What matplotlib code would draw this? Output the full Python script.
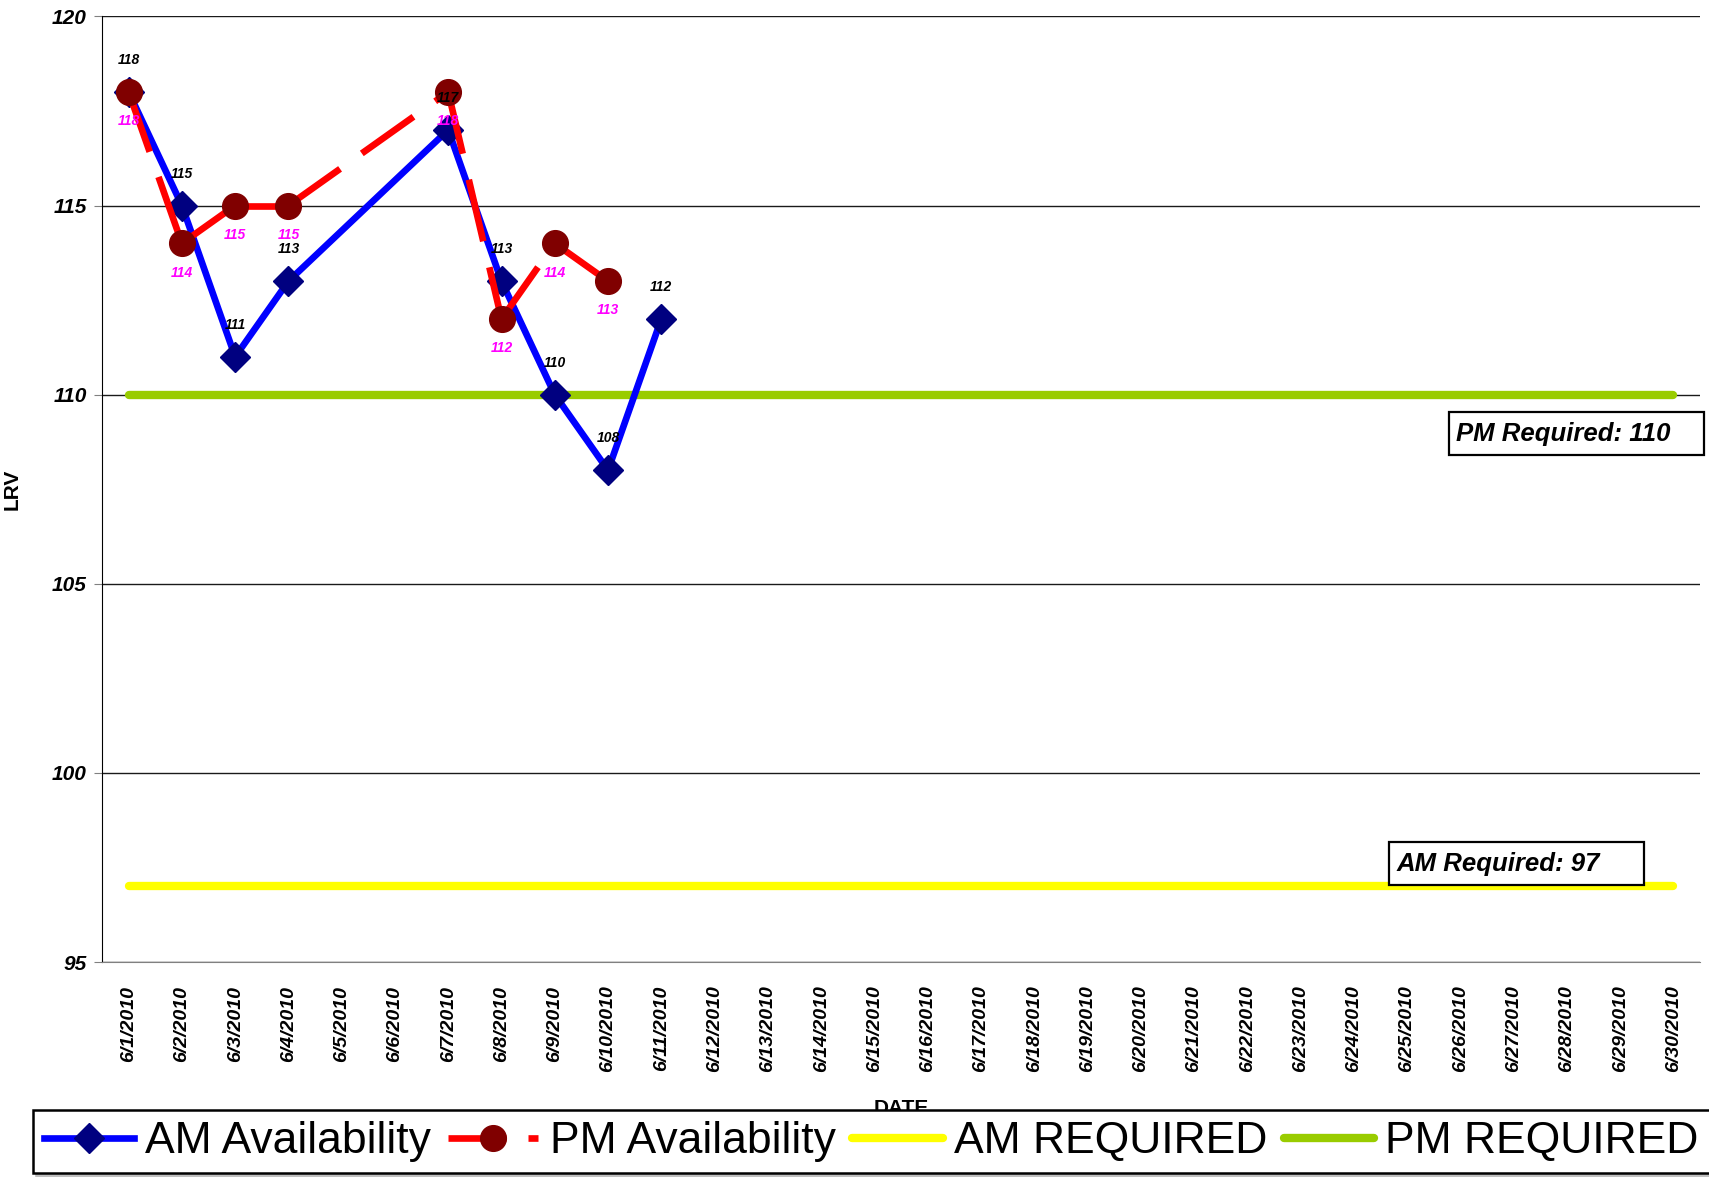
import numpy as np
import matplotlib
matplotlib.use('Agg')
import matplotlib.pyplot as plt
from matplotlib.lines import Line2D
from matplotlib.patches import Rectangle

plt.rcParams['font.family'] = ['Liberation Sans', 'DejaVu Sans']

# data
dates = ['6/%d/2010' % d for d in range(1, 31)]
am_avail = [118, 115, 111, 113, np.nan, np.nan, 117, 113, 110, 108, 112]
pm_avail = [118, 114, 115, 115, np.nan, np.nan, 118, 112, 114, 113]
am_required = [97] * len(dates)
pm_required = [110] * len(dates)
y_ticks = [95, 100, 105, 110, 115, 120]

W, H = 1709, 1177
fig = plt.figure(figsize=(W / 100, H / 100), dpi=100)
ax = fig.add_axes([102 / W, 1 - 962 / H, 1598 / W, 945.6 / H])

# required levels (drawn underneath)
ax.plot(dates, am_required, color='#FFFF00', lw=6, solid_capstyle='round', zorder=2)
ax.plot(dates, pm_required, color='#99CC00', lw=6, solid_capstyle='round', zorder=2)

# AM availability - connect across missing days
am_d = [d for d, v in zip(dates, am_avail) if not np.isnan(v)]
am_v = [v for v in am_avail if not np.isnan(v)]
ax.plot(am_d, am_v, color='#0000FF', lw=4.8, marker='D', ms=15,
        mfc='#000080', mec='#000080', zorder=3)

# PM availability - dashed, pattern restarts on every segment like Excel
pm_d = [d for d, v in zip(dates, pm_avail) if not np.isnan(v)]
pm_v = [v for v in pm_avail if not np.isnan(v)]
dash = (0, (9.5, 4))
for i in range(len(pm_d) - 1):
    ax.plot(pm_d[i:i + 2], pm_v[i:i + 2], color='#FF0000', lw=4.8,
            linestyle=dash, dash_capstyle='butt', zorder=4)
ax.plot(pm_d, pm_v, linestyle='none', marker='o', ms=18.5,
        mfc='#800000', mec='#800000', zorder=5)

# data labels
for d, v in zip(am_d, am_v):
    ax.annotate('%d' % v, (d, v), xytext=(0, 23), textcoords='offset points',
                ha='center', va='center', fontsize=10, fontweight='bold',
                fontstyle='italic', color='black', zorder=6)
for d, v in zip(pm_d, pm_v):
    ax.annotate('%d' % v, (d, v), xytext=(0, -21), textcoords='offset points',
                ha='center', va='center', fontsize=10, fontweight='bold',
                fontstyle='italic', color='#FF00FF', zorder=6)

# axes styling
ax.set_xlim(-0.5, len(dates) - 0.5)
ax.set_ylim(95, 120)
ax.set_yticks(y_ticks)
ax.grid(axis='y', color='0.1', lw=1, zorder=1)
ax.grid(axis='x', visible=False)
ax.set_axisbelow(True)
for s in ['top', 'right']:
    ax.spines[s].set_visible(False)
ax.spines['bottom'].set_color('#808080')
ax.spines['left'].set_color('black')
ax.tick_params(axis='y', length=6, color='#808080', pad=5)
ax.tick_params(axis='x', length=0, pad=17)
for lab in ax.get_yticklabels():
    lab.set_fontsize(15)
    lab.set_fontweight('bold')
    lab.set_fontstyle('italic')
for lab in ax.get_xticklabels():
    lab.set_fontsize(14)
    lab.set_fontweight('bold')
    lab.set_fontstyle('italic')
    lab.set_rotation(90)

ax.set_ylabel('LRV', fontsize=15, fontweight='bold')
ax.yaxis.set_label_coords(-0.05, 0.5)
ax.set_xlabel('DATE', fontsize=15, fontweight='bold', va='top')
ax.xaxis.set_label_coords(0.5, -0.145)

# requirement callouts
boxes = [(0.843, 0.5362, 'PM Required: 110', 0.847),
         (0.8054, 0.0814, 'AM Required: 97', 0.8098)]
for x0, y0, txt, tx in boxes:
    ax.add_patch(Rectangle((x0, y0), 0.1595, 0.0454, transform=ax.transAxes,
                           facecolor='white', edgecolor='black', lw=1.6,
                           clip_on=False, zorder=7))
    ax.text(tx, y0 + 0.0227, txt, transform=ax.transAxes, ha='left', va='center',
            fontsize=18.5, fontweight='bold', fontstyle='italic', zorder=8)

# legend
handles = [
    Line2D([], [], color='#0000FF', lw=4.8, marker='D', ms=15,
           mfc='#000080', mec='#000080'),
    Line2D([], [], color='#FF0000', lw=4.8, linestyle=(0, (8.7, 3.3)),
           marker='o', ms=18.5, mfc='#800000', mec='#800000'),
    Line2D([], [], color='#FFFF00', lw=6, solid_capstyle='round'),
    Line2D([], [], color='#99CC00', lw=6, solid_capstyle='round'),
]
labels = ['AM Availability', 'PM Availability', 'AM REQUIRED', 'PM REQUIRED']
leg = fig.legend(handles, labels, loc='upper left',
                 bbox_to_anchor=(33 / W, 1 - 1110 / H), ncol=4,
                 fontsize=32, frameon=True, fancybox=False, borderaxespad=0,
                 borderpad=0.25, handlelength=2.03, handletextpad=0.25,
                 columnspacing=0.38, shadow={'color': '0.75', 'alpha': 1},
                 )
leg.get_frame().set_edgecolor('black')
leg.get_frame().set_linewidth(1.8)

fig.savefig('out.png', dpi=100)
